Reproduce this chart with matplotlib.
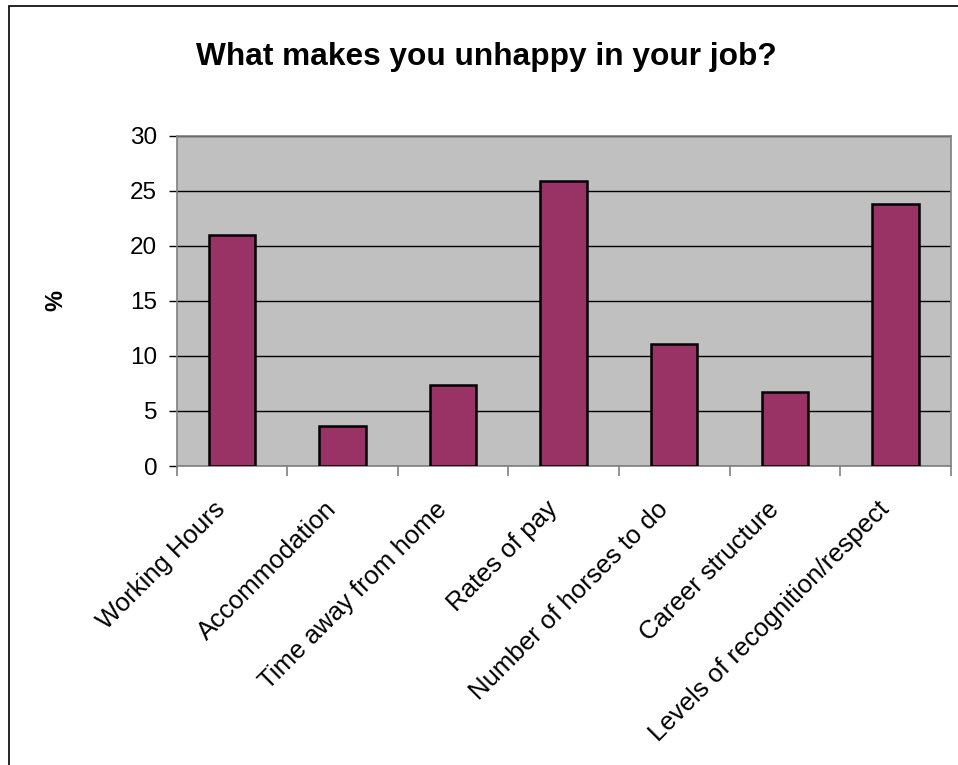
import matplotlib
matplotlib.use("Agg")
import matplotlib.pyplot as plt
import matplotlib.transforms as mtransforms
import numpy as np
from matplotlib.patches import Rectangle

categories = ["Working Hours", "Accommodation", "Time away from home",
              "Rates of pay", "Number of horses to do", "Career structure",
              "Levels of recognition/respect"]
values = [21.0, 3.6, 7.4, 25.9, 11.1, 6.7, 23.8]
y_ticks = [0, 5, 10, 15, 20, 25, 30]

plt.rcParams["font.family"] = ["Liberation Sans", "DejaVu Sans"]

fig = plt.figure(figsize=(9.58, 7.65), dpi=100)
fig.patch.set_facecolor("white")

# outer chart frame (top and left edges visible)
fig.patches.append(Rectangle((9 / 958, -0.05), 1.2, 1 - 6 / 765 + 0.05,
                             transform=fig.transFigure, fill=False,
                             edgecolor="black", linewidth=1.2))

ax = fig.add_axes([0.1844, 0.3908, 0.9924 - 0.1844, 0.8226 - 0.3908])
ax.set_facecolor("#C0C0C0")

x = np.arange(len(categories))
ax.bar(x, values, width=0.42, color="#993366", edgecolor="black",
       linewidth=1.8, zorder=3)

ax.set_xlim(-0.5, len(categories) - 0.5)
ax.set_ylim(0, 30)
ax.set_yticks(y_ticks)
ax.yaxis.grid(True, color="black", linewidth=1.0, zorder=1)
ax.set_axisbelow(True)

for side in ["left", "bottom", "top", "right"]:
    ax.spines[side].set_color("#808080")
    ax.spines[side].set_linewidth(1.2)

ax.tick_params(axis="y", direction="out", length=6, width=1.0,
               color="black", labelsize=17.5, pad=8)

# category labels centred, ticks on boundaries
ax.set_xticks(x)
ax.set_xticklabels(categories, rotation=45, ha="right",
                   rotation_mode="anchor", fontsize=18.5)
ax.tick_params(axis="x", which="major", length=0, pad=0)
ax.set_xticks(np.arange(-0.5, len(categories), 1.0), minor=True)
ax.tick_params(axis="x", which="minor", direction="out", length=7,
               width=1.2, color="#808080")

# shift the slanted labels down and to the left of each category centre
shift = mtransforms.ScaledTranslation(-18.5 / 100, -31 / 100,
                                      fig.dpi_scale_trans)
for lbl in ax.get_xticklabels():
    lbl.set_transform(lbl.get_transform() + shift)

ax.set_ylabel("%", fontsize=17, fontweight="bold", labelpad=45)

fig.text(0.508, 0.926, "What makes you unhappy in your job?",
         ha="center", va="center", fontsize=22.8, fontweight="bold")

fig.savefig("out.png", dpi=100)
